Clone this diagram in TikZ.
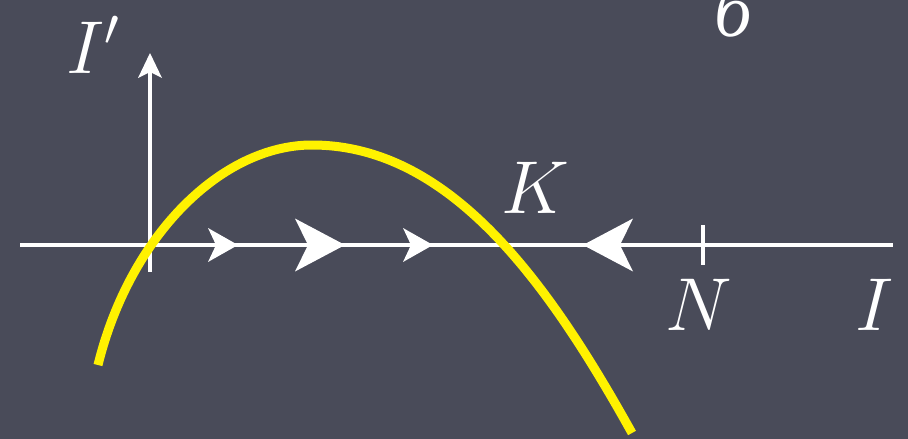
\documentclass[tikz,border=0pt]{standalone}
\usepackage{fix-cm}
\usepackage{fontspec}
\newfontfamily\cyrfont{Liberation Serif}
\usetikzlibrary{arrows.meta}
\definecolor{bg}{RGB}{73,75,89}
\begin{document}
\begin{tikzpicture}[x=1pt,y=-1pt,
  axis/.style={white,line width=4.5pt},
  curve/.style={yellow,line width=9pt},
  lbl/.style={white,inner sep=0pt,anchor=base,font=\fontsize{75}{80}\selectfont},
  smalltip/.style={-{Stealth[length=30pt,width=34pt,inset=8pt,line width=0pt]}},
  bigtip/.style={-{Stealth[length=50pt,width=53pt,inset=13pt,line width=0pt]}},
  uptip/.style={-{Stealth[length=25pt,width=24pt,inset=6pt,line width=0pt]}}
]
\fill[bg] (0,0) rectangle (908,439);
\useasboundingbox (0,0) rectangle (908,439);
% coordinates
\coordinate (xl) at (20,245);
\coordinate (xr) at (893,245);
\coordinate (yb) at (150,272);
\coordinate (yt) at (150,53);
\coordinate (tkt) at (703,225);
\coordinate (tkb) at (703,265);
\coordinate (a1s) at (200,245);
\coordinate (a1e) at (238,245);
\coordinate (a2s) at (285,245);
\coordinate (a2e) at (345,245);
\coordinate (a3s) at (395,245);
\coordinate (a3e) at (433,245);
\coordinate (a4s) at (645,245);
\coordinate (a4e) at (583,245);
\coordinate (c0) at (98,365);
\coordinate (cp) at (312,145);
\coordinate (c1) at (632,433);
% axes
\draw[axis] (xl) -- (xr);
\draw[axis,uptip] (yb) -- (yt);
\draw[axis] (tkt) -- (tkb);
% curve
\draw[curve] (c0) .. controls (130,235) and (222,145) .. (cp)
  .. controls (450,145) and (548,282) .. (c1);
% flow arrows
\draw[axis,smalltip] (a1s) -- (a1e);
\draw[axis,bigtip] (a2s) -- (a2e);
\draw[axis,smalltip] (a3s) -- (a3e);
\draw[axis,bigtip] (a4s) -- (a4e);
% labels
\node[lbl,anchor=base west] (lIp) at (66,73) {$I'$};
\node[lbl] (lK) at (535,213) {$K$};
\node[lbl] (lN) at (699,330) {$N$};
\node[lbl] (lI) at (875,330) {$I$};
\node[lbl,font=\fontsize{75}{80}\selectfont\cyrfont\itshape] (lb) at (733,36) {б};
\end{tikzpicture}
\end{document}
